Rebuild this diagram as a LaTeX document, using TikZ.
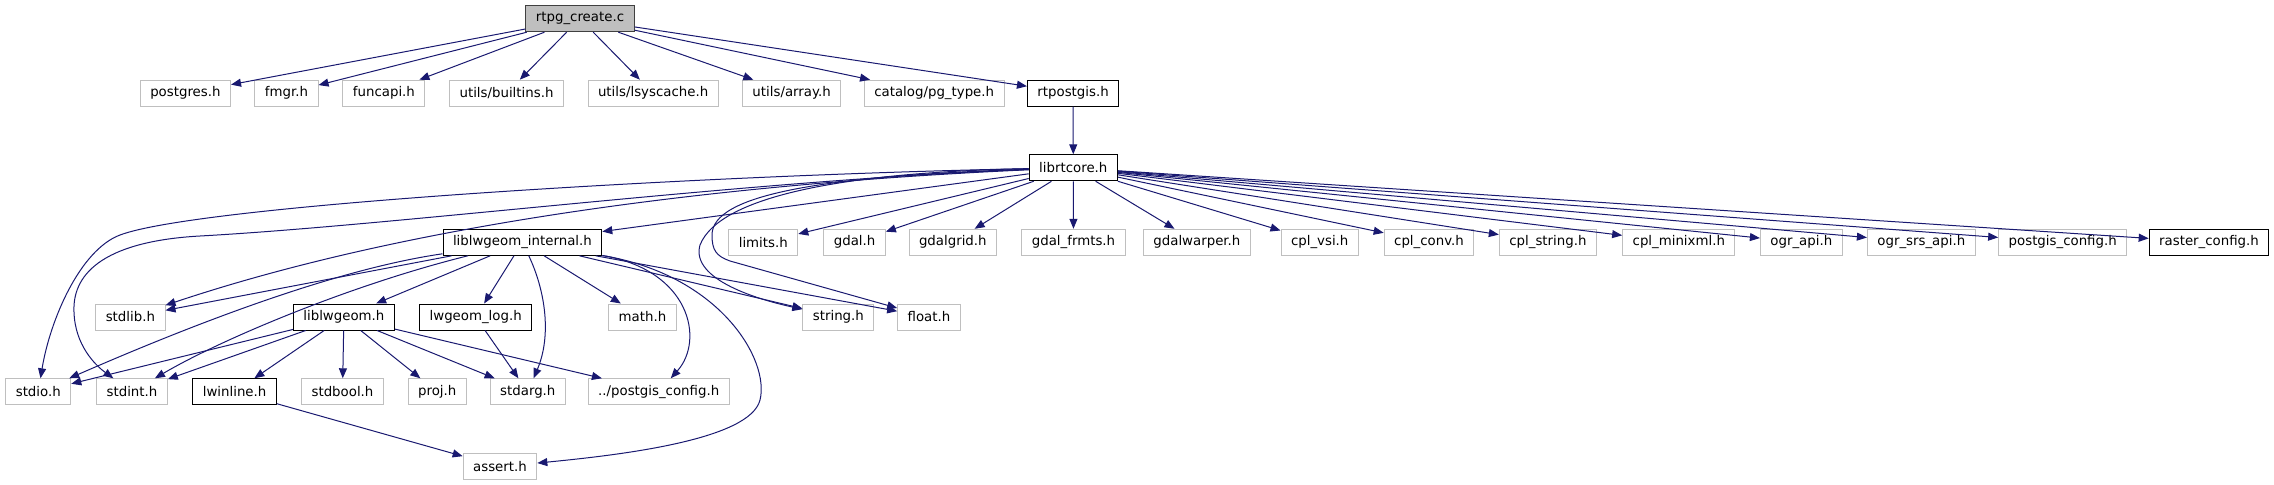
\documentclass[tikz,border=0pt]{standalone}
\usepackage{fontspec}
\setmainfont{DejaVu Sans}
\usetikzlibrary{arrows.meta}
\definecolor{edgeblue}{HTML}{191970}
\definecolor{boxgray}{HTML}{BFBFBF}
\definecolor{boxdark}{HTML}{404040}
\tikzset{
	hdr/.style={draw=boxgray, fill=white, line width=0.75pt, inner xsep=7.5pt, inner ysep=0pt, minimum height=19.5pt, font=\fontsize{10pt}{12pt}\selectfont},
	docbox/.style={hdr, draw=black},
	mainbox/.style={hdr, draw=boxdark, fill=boxgray},
	dep/.style={draw=edgeblue, line width=0.75pt, -{Triangle[length=7.5pt,width=6pt]}}
}
\begin{document}
\begin{tikzpicture}[x=0.75pt, y=-0.75pt]
		\useasboundingbox (0,0) rectangle (2274,485);

		% file sorgente
		\node[mainbox] (main) at (580,18.7) {rtpg\_create.c};

		% header inclusi direttamente
		\node[hdr] (pgres) at (185.4,93.2) {postgres.h};
		\node[hdr] (fmgr) at (286.5,93.2) {fmgr.h};
		\node[hdr] (funcapi) at (383.9,93.2) {funcapi.h};
		\node[hdr] (builtins) at (506.5,93.2) {utils/builtins.h};
		\node[hdr] (lsyscache) at (653.1,93.2) {utils/lsyscache.h};
		\node[hdr] (array) at (791.6,93.2) {utils/array.h};
		\node[hdr] (pgtype) at (934.2,93.2) {catalog/pg\_type.h};
		\node[docbox] (rtpostgis) at (1073.1,93.2) {rtpostgis.h};

		% core raster
		\node[docbox] (rtcore) at (1073.3,167.8) {librtcore.h};

		% secondo livello
		\node[docbox] (lwint) at (522.4,242.3) {liblwgeom\_internal.h};
		\node[hdr] (limits) at (763.3,242.3) {limits.h};
		\node[hdr] (gdal) at (854.6,242.3) {gdal.h};
		\node[hdr] (gdalgrid) at (952.8,242.3) {gdalgrid.h};
		\node[hdr] (gdalfrmts) at (1073.5,242.3) {gdal\_frmts.h};
		\node[hdr] (gdalwarper) at (1196.9,242.3) {gdalwarper.h};
		\node[hdr] (cplvsi) at (1319.7,242.3) {cpl\_vsi.h};
		\node[hdr] (cplconv) at (1429,242.3) {cpl\_conv.h};
		\node[hdr] (cplstring) at (1547.9,242.3) {cpl\_string.h};
		\node[hdr] (cplxml) at (1678.8,242.3) {cpl\_minixml.h};
		\node[hdr] (ograpi) at (1801.3,242.3) {ogr\_api.h};
		\node[hdr] (ogrsrs) at (1921.3,242.3) {ogr\_srs\_api.h};
		\node[hdr] (pgiscfg) at (2062.7,242.3) {postgis\_config.h};
		\node[docbox] (rastercfg) at (2209,242.3) {raster\_config.h};

		% terzo livello
		\node[hdr] (stdlib) at (130.4,317) {stdlib.h};
		\node[docbox] (liblw) at (343.9,317) {liblwgeom.h};
		\node[docbox] (lwlog) at (475.7,317) {lwgeom\_log.h};
		\node[hdr] (math) at (642.5,317) {math.h};
		\node[hdr] (string) at (838.4,317) {string.h};
		\node[hdr] (float) at (929,317) {float.h};

		% quarto livello
		\node[hdr] (stdio) at (38.3,391.8) {stdio.h};
		\node[hdr] (stdint) at (132,391.8) {stdint.h};
		\node[docbox] (lwinline) at (234.6,391.8) {lwinline.h};
		\node[hdr] (stdbool) at (342.5,391.8) {stdbool.h};
		\node[hdr] (proj) at (437.2,391.8) {proj.h};
		\node[hdr] (stdarg) at (527.8,391.8) {stdarg.h};
		\node[hdr] (pgcfgrel) at (658.7,391.8) {../postgis\_config.h};
		\node[hdr] (assert) at (500,466.7) {assert.h};

		% dipendenze di rtpg_create.c
		\draw[dep] (main) -- (pgres);
		\draw[dep] (main) -- (fmgr);
		\draw[dep] (main) -- (funcapi);
		\draw[dep] (main) -- (builtins);
		\draw[dep] (main) -- (lsyscache);
		\draw[dep] (main) -- (array);
		\draw[dep] (main) -- (pgtype);
		\draw[dep] (main) -- (rtpostgis);
		\draw[dep] (rtpostgis) -- (rtcore);

		% dipendenze di librtcore.h
		\draw[dep] (rtcore) .. controls (700,175) and (200,205) .. (120,235) .. controls (80,250) and (50,320) .. (stdio);
		\draw[dep] (rtcore) .. controls (750,180) and (400,225) .. (200,236) .. controls (110,241) and (72,270) .. (74,312) .. controls (75,345) and (95,365) .. (stdint);
		\draw[dep] (rtcore) .. controls (800,180) and (450,210) .. (stdlib);
		\draw[dep] (rtcore) -- (lwint);
		\draw[dep] (rtcore) .. controls (850,172) and (720,195) .. (700,245) .. controls (690,280) and (760,300) .. (string);
		\draw[dep] (rtcore) .. controls (820,176) and (712,195) .. (712,235) .. controls (712,250) and (716,256) .. (730,261) -- (float);
		\draw[dep] (rtcore) -- (limits);
		\draw[dep] (rtcore) -- (gdal);
		\draw[dep] (rtcore) -- (gdalgrid);
		\draw[dep] (rtcore) -- (gdalfrmts);
		\draw[dep] (rtcore) -- (gdalwarper);
		\draw[dep] (rtcore) -- (cplvsi);
		\draw[dep] (rtcore) -- (cplconv);
		\draw[dep] (rtcore) -- (cplstring);
		\draw[dep] (rtcore) -- (cplxml);
		\draw[dep] (rtcore) -- (ograpi);
		\draw[dep] (rtcore) -- (ogrsrs);
		\draw[dep] (rtcore) -- (pgiscfg);
		\draw[dep] (rtcore) -- (rastercfg);

		% dipendenze di liblwgeom_internal.h
		\draw[dep] (lwint) -- (stdlib);
		\draw[dep] (lwint) .. controls (330,270) and (180,330) .. (stdio);
		\draw[dep] (lwint) .. controls (350,285) and (220,340) .. (stdint);
		\draw[dep] (lwint) -- (liblw);
		\draw[dep] (lwint) -- (lwlog);
		\draw[dep] (lwint) .. controls (545,290) and (552,335) .. (stdarg);
		\draw[dep] (lwint) -- (math);
		\draw[dep] (lwint) -- (string);
		\draw[dep] (lwint) -- (float);
		\draw[dep] (lwint) .. controls (690,270) and (705,340) .. (pgcfgrel);
		\draw[dep] (lwint) .. controls (720,275) and (770,360) .. (760,400) .. controls (750,440) and (620,455) .. (assert);

		% dipendenze di liblwgeom.h
		\draw[dep] (liblw) -- (stdio);
		\draw[dep] (liblw) -- (stdint);
		\draw[dep] (liblw) -- (lwinline);
		\draw[dep] (liblw) -- (stdbool);
		\draw[dep] (liblw) -- (proj);
		\draw[dep] (liblw) -- (stdarg);
		\draw[dep] (liblw) -- (pgcfgrel);

		% altre
		\draw[dep] (lwlog) -- (stdarg);
		\draw[dep] (lwinline) -- (assert);
	\end{tikzpicture}
\end{document}
